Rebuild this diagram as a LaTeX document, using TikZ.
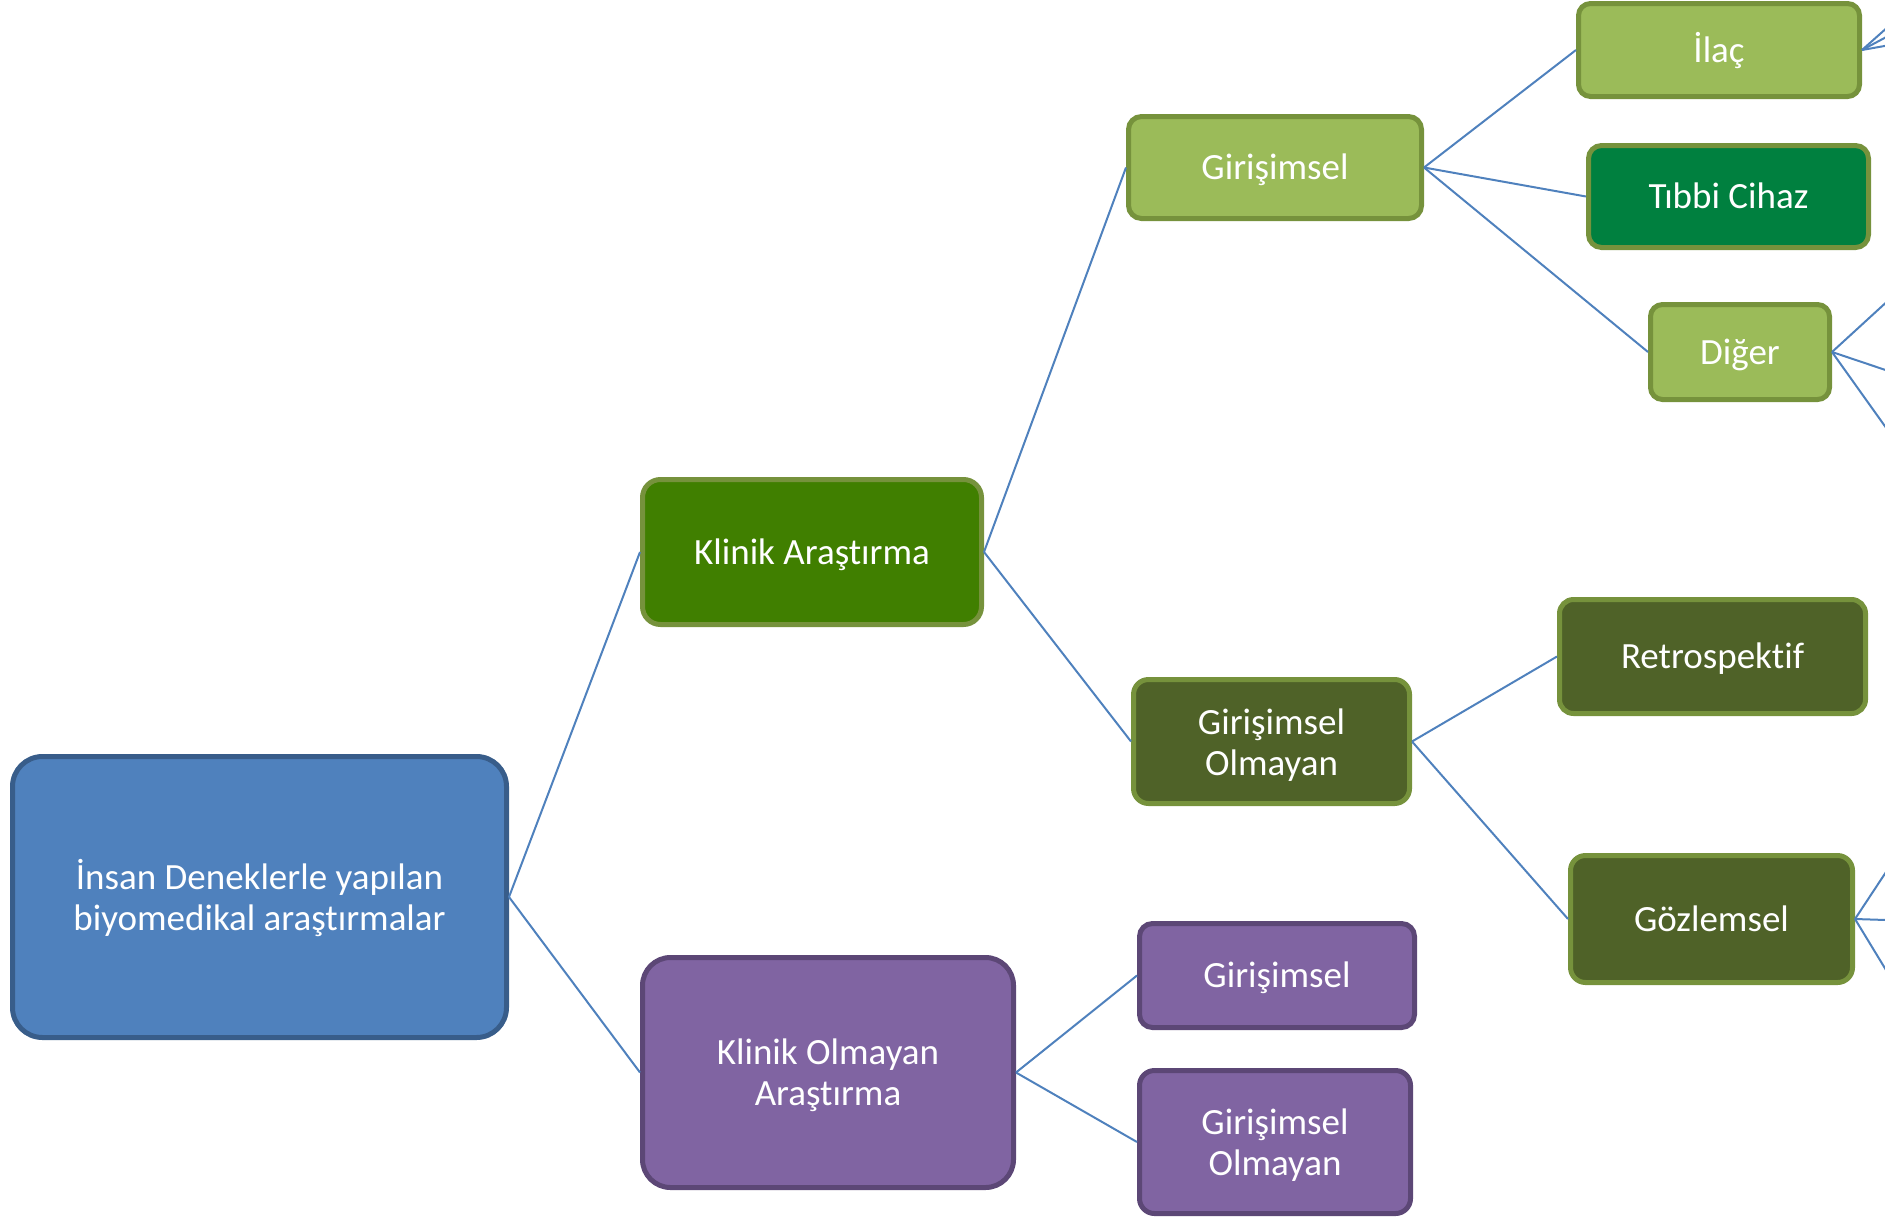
\documentclass[tikz,border=0pt]{standalone}
\usepackage{fontspec}
\setmainfont{Carlito}[Ligatures=NoCommon]
\definecolor{linkblue}{HTML}{4F81BD}
\definecolor{rootfill}{HTML}{4F81BD}
\definecolor{rootedge}{HTML}{385D8A}
\definecolor{leafgreen}{HTML}{9BBB59}
\definecolor{greenedge}{HTML}{76923C}
\definecolor{deepgreen}{HTML}{407F00}
\definecolor{devicegreen}{HTML}{00803F}
\definecolor{olivefill}{HTML}{4F6228}
\definecolor{purplefill}{HTML}{8064A2}
\definecolor{purpleedge}{HTML}{5C4776}
% strut that lowers the first line of two-line labels
\newcommand{\firstline}{\rule{0pt}{32pt}}
\tikzset{
  box/.style={rectangle, line width=5pt, text=white, align=center, inner sep=0pt,
    font=\fontsize{37}{41}\selectfont},
  oneline/.style={text height=26pt, text depth=2pt},
  bluebox/.style={box, fill=rootfill, draw=rootedge},
  lightbox/.style={box, fill=leafgreen, draw=greenedge},
  darkbox/.style={box, fill=deepgreen, draw=greenedge},
  devicebox/.style={box, fill=devicegreen, draw=greenedge},
  olivebox/.style={box, fill=olivefill, draw=greenedge},
  purplebox/.style={box, fill=purplefill, draw=purpleedge},
  link/.style={draw=linkblue, line width=2pt},
  sz/.style n args={3}{minimum width=#1pt, minimum height=#2pt, rounded corners=#3pt}
}
\begin{document}
\begin{tikzpicture}[x=1pt, y=-1pt]
\useasboundingbox (0,0) rectangle (1885,1216);
\clip (0,0) rectangle (1885,1216);

% first level
\node[bluebox, sz={494}{281}{30}] (root) at (259.5,897) {\firstline İnsan Deneklerle yapılan\\biyomedikal araştırmalar};
\node[darkbox, oneline, sz={339}{145}{18}] (klinik) at (812,552) {Klinik Araştırma};
\node[purplebox, sz={371}{230}{28}] (nonklinik) at (828,1072.5) {\firstline Klinik Olmayan\\Araştırma};

% clinical branch
\node[lightbox, oneline, sz={293}{102}{13}] (gir) at (1275,167.5) {Girişimsel};
\node[olivebox, sz={276}{124}{15}] (girol) at (1271.5,741.5) {\firstline Girişimsel\\Olmayan};
\node[lightbox, oneline, sz={281}{93}{12}] (ilac) at (1719,50) {İlaç};
\node[devicebox, oneline, sz={280}{102}{13}] (cihaz) at (1728.5,196.5) {Tıbbi Cihaz};
\node[lightbox, oneline, sz={179}{95}{12}] (diger) at (1740,352) {Diğer};
\node[olivebox, oneline, sz={306}{114}{14}] (retro) at (1712.5,656.5) {Retrospektif};
\node[olivebox, oneline, sz={282}{127}{15}] (gozlem) at (1711.5,919) {Gözlemsel};

% non-clinical branch
\node[purplebox, oneline, sz={275}{104}{13}] (pgir) at (1277,975.5) {Girişimsel};
\node[purplebox, sz={271}{143}{15}] (pgirol) at (1275,1142) {\firstline Girişimsel\\Olmayan};

% further branches continuing past the right edge
\coordinate (ilacA) at (1935,-15);
\coordinate (ilacB) at (1935,11);
\coordinate (ilacC) at (1935,37);
\coordinate (digerA) at (1939,254);
\coordinate (digerB) at (1939,388);
\coordinate (digerC) at (1939,502);
\coordinate (gozA) at (1917,825);
\coordinate (gozB) at (1917,921);
\coordinate (gozC) at (1917,1021);

% connectors
\draw[link] (root.east) -- (klinik.west);
\draw[link] (root.east) -- (nonklinik.west);
\draw[link] (klinik.east) -- (gir.west);
\draw[link] (klinik.east) -- (girol.west);
\draw[link] (gir.east) -- (ilac.west);
\draw[link] (gir.east) -- (cihaz.west);
\draw[link] (gir.east) -- (diger.west);
\draw[link] (girol.east) -- (retro.west);
\draw[link] (girol.east) -- (gozlem.west);
\draw[link] (nonklinik.east) -- (pgir.west);
\draw[link] (nonklinik.east) -- (pgirol.west);
\draw[link] (ilac.east) -- (ilacA);
\draw[link] (ilac.east) -- (ilacB);
\draw[link] (ilac.east) -- (ilacC);
\draw[link] (diger.east) -- (digerA);
\draw[link] (diger.east) -- (digerB);
\draw[link] (diger.east) -- (digerC);
\draw[link] (gozlem.east) -- (gozA);
\draw[link] (gozlem.east) -- (gozB);
\draw[link] (gozlem.east) -- (gozC);
\end{tikzpicture}
\end{document}
